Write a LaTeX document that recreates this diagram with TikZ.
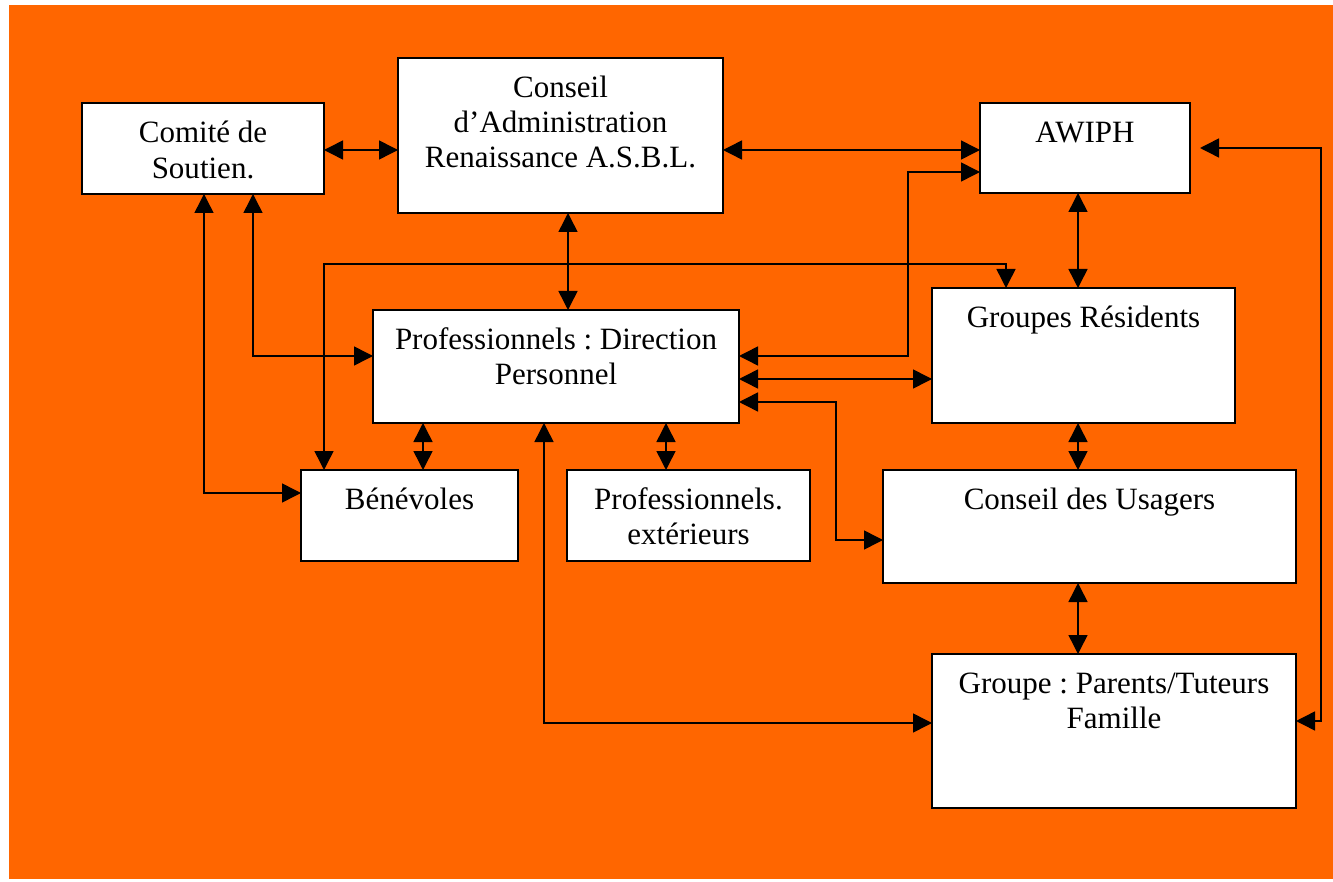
\documentclass[tikz,border=0pt]{standalone}
\usepackage{fontspec}
\setmainfont{Liberation Serif}
\usetikzlibrary{arrows.meta,calc}
\definecolor{bgorange}{HTML}{FF6600}
\begin{document}
\begin{tikzpicture}[x=1pt,y=-1pt,
  box/.style={draw=black, line width=1.5pt, fill=white, rectangle, inner sep=0pt, outer sep=0pt, anchor=north west},
  txt/.style={anchor=north, inner sep=0pt, align=center, font=\fontsize{31}{35}\selectfont\frenchspacing},
  link/.style={line width=1.5pt, {Triangle[length=19pt,width=19pt]}-{Triangle[length=19pt,width=19pt]}},
]
\useasboundingbox (0,0) rectangle (1333,882);
\fill[white] (0,0) rectangle (1333,882);
\fill[bgorange] (9,5) rectangle (1333,879);

% boxes
\node[box, minimum width=242pt, minimum height=91pt]  (cs) at (82,103)  {};
\node[box, minimum width=325pt, minimum height=155pt] (ca) at (398,58)  {};
\node[box, minimum width=210pt, minimum height=90pt]  (aw) at (980,103) {};
\node[box, minimum width=366pt, minimum height=113pt] (pd) at (373,310) {};
\node[box, minimum width=303pt, minimum height=135pt] (gr) at (932,288) {};
\node[box, minimum width=217pt, minimum height=91pt]  (bv) at (301,470) {};
\node[box, minimum width=243pt, minimum height=91pt]  (pe) at (567,470) {};
\node[box, minimum width=413pt, minimum height=113pt] (cu) at (883,470) {};
\node[box, minimum width=364pt, minimum height=154pt] (gp) at (932,654) {};

% texts
\node[txt] (cs-t) at ([yshift=-14.5pt]cs.north) {\strut Comité de\\[1pt]Soutien.};
\node[txt] (ca-t) at ([yshift=-14.5pt]ca.north) {\strut Conseil\\d’Administration\\Renaissance A.S.B.L.};
\node[txt] (aw-t) at ([yshift=-14.5pt]aw.north) {\strut AWIPH};
\node[txt] (pd-t) at ([yshift=-14.5pt]pd.north) {\strut Professionnels : Direction\\Personnel};
\node[txt] (gr-t) at ([yshift=-14.5pt]gr.north) {\strut Groupes Résidents};
\node[txt] (bv-t) at ([yshift=-14.5pt]bv.north) {\strut Bénévoles};
\node[txt] (pe-t) at ([yshift=-14.5pt]pe.north) {\strut Professionnels.\\extérieurs};
\node[txt] (cu-t) at ([yshift=-14.5pt]cu.north) {\strut Conseil des Usagers};
\node[txt] (gp-t) at ([yshift=-14.5pt]gp.north) {\strut Groupe : Parents/Tuteurs\\Famille};

% connectors
\draw[link] (cs.east |- 0,150) -- (ca.west |- 0,150);
\draw[link] (ca.east |- 0,150) -- (aw.west |- 0,150);
\draw[link] (pd.east |- 0,356) -- (908,356) -- (908,172) -- (aw.west |- 0,172);
\draw[link] (pd.east |- 0,379) -- (gr.west |- 0,379);
\draw[link] (pd.east |- 0,402) -- (836,402) -- (836,540) -- (cu.west |- 0,540);
\draw[link] (ca.south -| 568,0) -- (pd.north -| 568,0);
\draw[link] (cs.south -| 204,0) -- (204,493) -- (bv.west |- 0,493);
\draw[link] (cs.south -| 253,0) -- (253,356) -- (pd.west |- 0,356);
\draw[link] (bv.north -| 324,0) -- (324,264) -- (1006,264) -- (gr.north -| 1006,0);
\draw[link] (aw.south -| 1078,0) -- (gr.north -| 1078,0);
\draw[link] (pd.south -| 423,0) -- (bv.north -| 423,0);
\draw[link] (pd.south -| 666,0) -- (pe.north -| 666,0);
\draw[link] (pd.south -| 544,0) -- (544,723) -- (gp.west |- 0,723);
\draw[link] (gr.south -| 1078,0) -- (cu.north -| 1078,0);
\draw[link] (cu.south -| 1078,0) -- (gp.north -| 1078,0);
\draw[link] ([xshift=10pt]aw.east |- 0,148) -- (1321,148) -- (1321,721) -- (gp.east |- 0,721);
\end{tikzpicture}
\end{document}
